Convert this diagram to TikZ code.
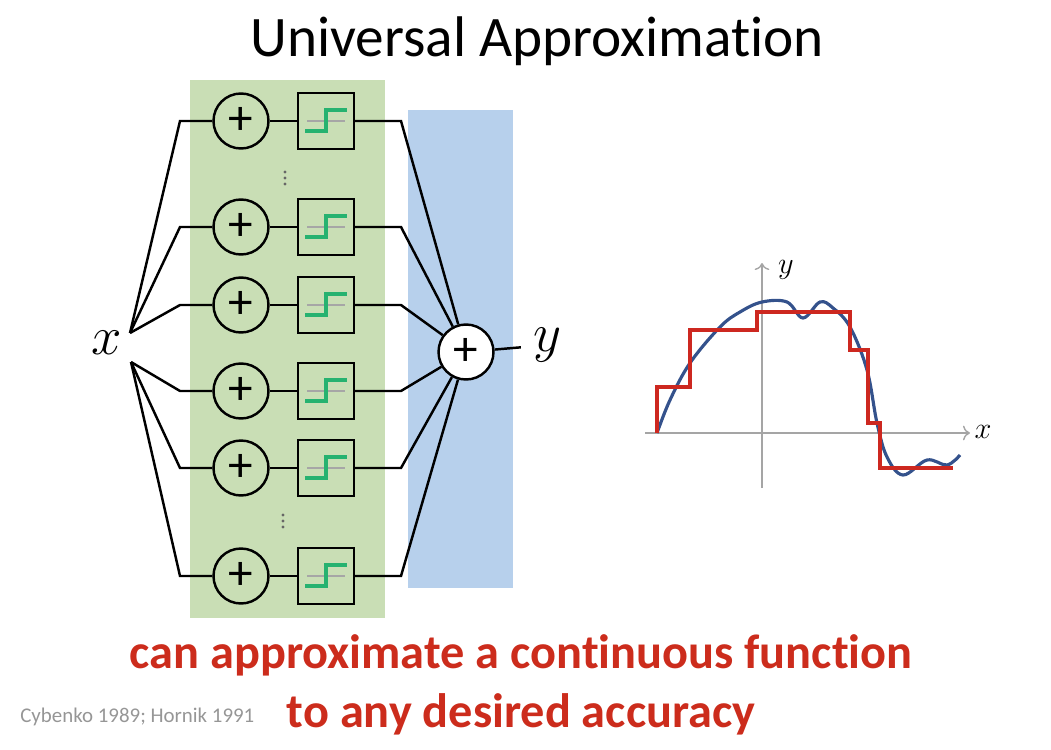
\documentclass[tikz,border=0pt]{standalone}
\usepackage{fontspec}
\setmainfont{Carlito}[Ligatures=NoCommon]
\usetikzlibrary{arrows.meta}
\definecolor{bggreen}{RGB}{201,222,181}
\definecolor{bgblue}{RGB}{183,208,236}
\definecolor{stepgreen}{RGB}{38,178,112}
\definecolor{textred}{RGB}{204,44,28}
\definecolor{curveblue}{RGB}{52,82,140}
\definecolor{curvered}{RGB}{205,40,32}
\definecolor{notegray}{RGB}{150,150,150}
\definecolor{axisgray}{RGB}{165,165,165}
\begin{document}
\begin{tikzpicture}[x=0.02cm,y=-0.02cm,
  sumnode/.style={draw,circle,line width=1.4pt,minimum size=1.1cm,inner sep=0pt,fill=white,font=\fontsize{28}{28}\selectfont},
  stepbox/.style={draw,rectangle,line width=1.4pt,minimum size=1.12cm,inner sep=0pt},
  wire/.style={line width=1.4pt},
  stepline/.style={stepgreen,line width=2.2pt},
  midline/.style={gray!70,line width=0.6pt},
  biglabel/.style={font=\fontsize{24}{24}\selectfont,scale=1.25,inner sep=1pt},
  axis/.style={axisgray,line width=0.8pt,-{To[length=4pt]}}]
\useasboundingbox (0,0) rectangle (1051,750);
% panels behind the network
\fill[bggreen] (190,80) rectangle (385,618);
\fill[bgblue] (408,110) rectangle (513,588);
\node[font=\fontsize{32.6}{36}\selectfont,anchor=base] (title) at (537,57) {Universal Approximation};
% input and output
\node[biglabel] (xin) at (107,343) {$x$};
\coordinate (xu) at (130,333);
\coordinate (xd) at (131,362);
\node[sumnode] (sum) at (466,352) {+};
\node[biglabel] (yout) at (548,345) {$y$};
\draw[wire,shorten >=6pt] (sum) -- (yout);
% hidden units
\foreach \i/\r/\s in {1/121/xu,2/227/xu,3/305/xu,4/391/xd,5/468/xd,6/576/xd}{
  \node[sumnode,fill=none] (s\i) at (241,\r) {+};
  \node[stepbox] (b\i) at (326,\r) {};
  \draw[midline] (307,\r) -- (345,\r);
  \draw[stepline] (305,\r+10) -- (326,\r+10) -- (326,\r-11) -- (347,\r-11);
  \draw[wire] (\s) -- (180,\r) -- (s\i);
  \draw[wire] (s\i) -- (b\i);
  \draw[wire] (b\i) -- (401,\r) -- (sum);
}
\foreach \d in {-6,0,6}{
  \fill[black!60] (285,178+\d) circle (1.6);
  \fill[black!60] (283,521+\d) circle (1.6);
}
% function and its step approximation
\draw[axis] (645,433) -- (970,433);
\draw[axis] (762,488) -- (762,263);
\node[font=\fontsize{16}{18}\selectfont] (xlab) at (983,432) {$x$};
\node[font=\fontsize{16}{18}\selectfont] (ylab) at (786,270) {$y$};
\draw[curveblue,line width=1.8pt] plot[smooth,tension=0.6] coordinates {(657,433) (670,400) (690,363) (720,327) (740,312) (762,302) (787,302) (803,318) (820,302) (833,308) (850,327) (867,370) (877,423) (887,457) (903,475) (927,460) (947,465) (960,455)};
\draw[curvered,line width=2pt] (657,433) -- (657,387) -- (690,387) -- (690,330) -- (757,330) -- (757,312) -- (850,312) -- (850,350) -- (868,350) -- (868,423) -- (880,423) -- (880,468) -- (953,468);
% claim
\node[font=\bfseries\fontsize{27.5}{30}\selectfont,text=textred,anchor=base] (claim1) at (521,668) {can approximate a continuous function};
\node[font=\bfseries\fontsize{27.5}{30}\selectfont,text=textred,anchor=base] (claim2) at (521,727) {to any desired accuracy};
\node[font=\fontsize{11.9}{14}\selectfont,text=notegray,anchor=base west,inner sep=0pt] (refs) at (20,722) {Cybenko 1989; Hornik 1991};
\end{tikzpicture}
\end{document}
